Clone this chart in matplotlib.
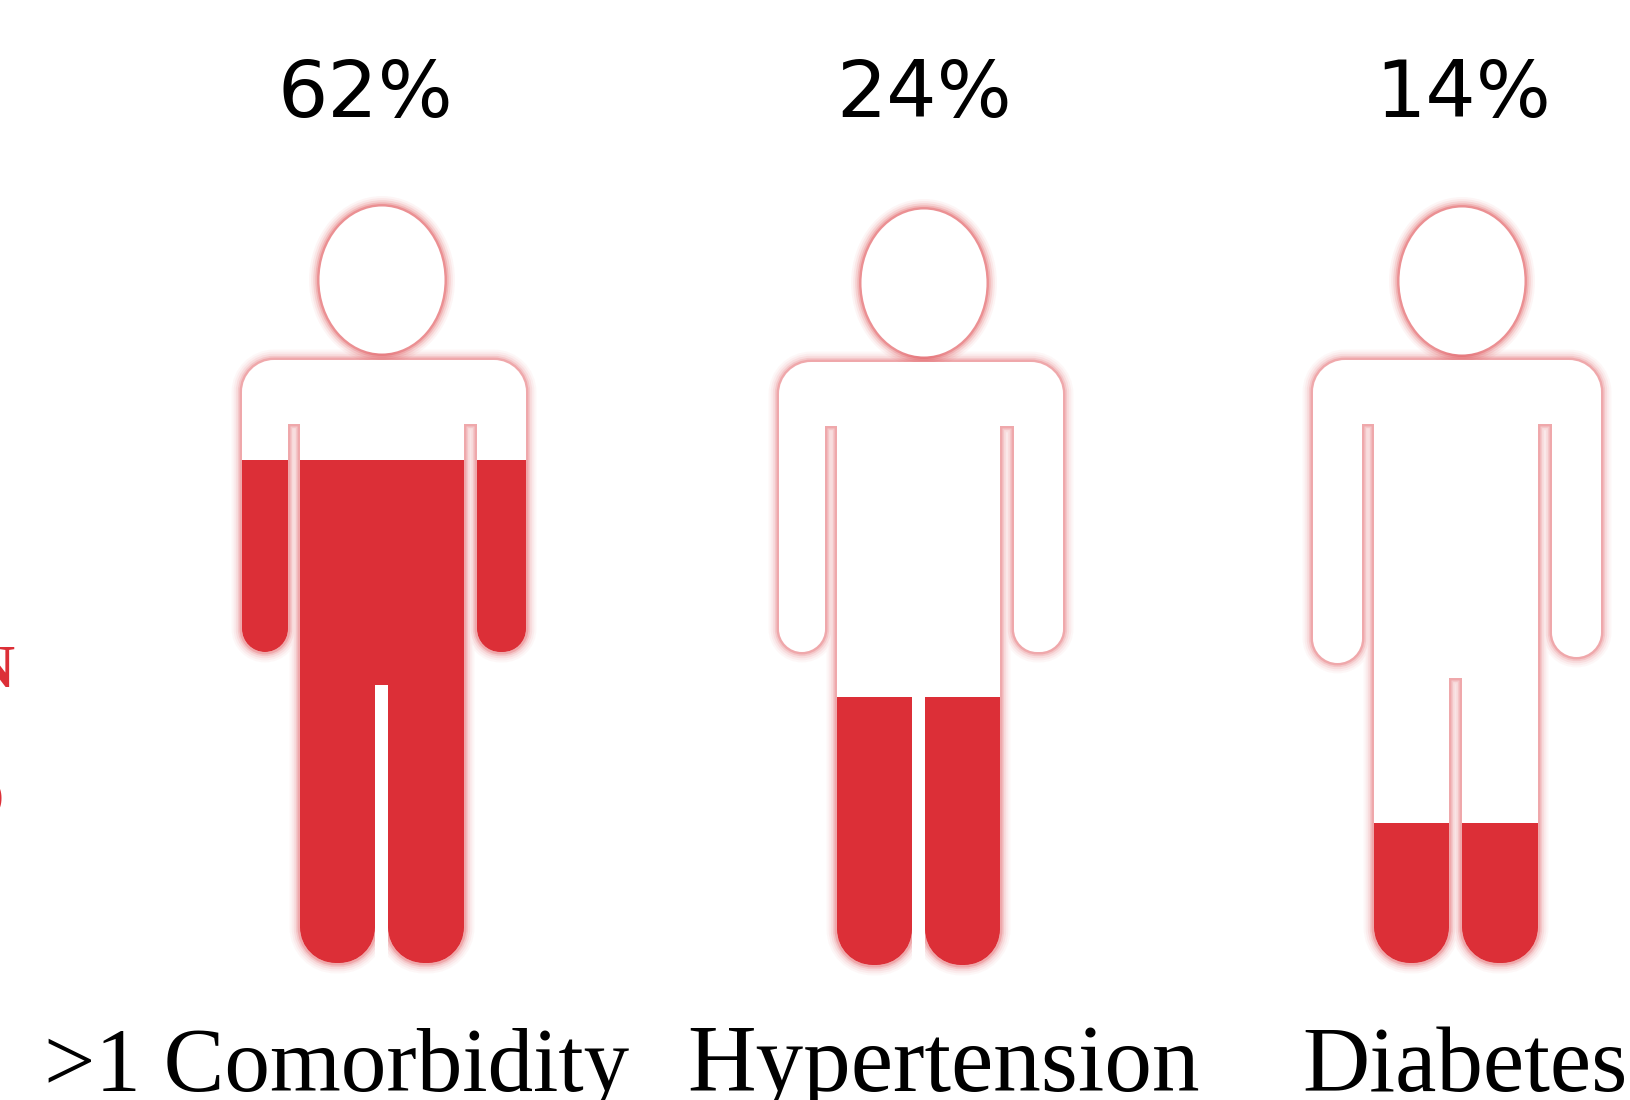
#!/usr/bin/env python3
"""Pictogram: share of patients per comorbidity, one filled figure per group."""
import matplotlib
matplotlib.use('Agg')
import matplotlib.pyplot as plt
from matplotlib.patches import Ellipse, PathPatch, Rectangle
from matplotlib.path import Path

categories = ['>1 Comorbidity', 'Hypertension', 'Diabetes']
percents = [62, 24, 14]
# how far up the figure the red goes (not the same as the %)
fill_share = [0.665, 0.354, 0.185]

RED = '#DC2F37'
GLOW = [(15, 0.035), (12, 0.05), (9, 0.08), (6, 0.12), (3.5, 0.2)]

# ── layout of each figure, in reference pixels ───────────────
LAYOUT = [
    dict(head=(382, 280), top=360, arm_l=(242, 288), arm_r=(477, 526), arm_y=(652, 652),
         pit=424, body=(300, 464), gap=(375, 388), crotch=685, foot=963, open_gap=True),
    dict(head=(924, 283), top=362, arm_l=(779, 825), arm_r=(1014, 1063), arm_y=(652, 652),
         pit=426, body=(837, 1000), gap=(912, 925), crotch=685, foot=965, open_gap=True),
    dict(head=(1462, 281), top=360, arm_l=(1313, 1362), arm_r=(1552, 1601), arm_y=(663, 657),
         pit=424, body=(1374, 1538), gap=(1449, 1462), crotch=678, foot=963, open_gap=False),
]
PCT_X = [365, 924, 1463]
LABEL_X = [337, 944, 1465]
LABEL_SIZE = [65.5, 68.5, 67]


def rounded(points):
    """Closed path through (x, y, corner radius) points."""
    verts, codes = [], []
    n = len(points)
    k = 0.55
    for i, (x, y, r) in enumerate(points):
        px, py, _ = points[i - 1]
        nx, ny, _ = points[(i + 1) % n]
        if r == 0:
            verts.append((x, y))
            codes.append(Path.LINETO)
            continue
        d1 = ((x - px) ** 2 + (y - py) ** 2) ** 0.5
        d2 = ((x - nx) ** 2 + (y - ny) ** 2) ** 0.5
        ax0, ay0 = x + (px - x) * r / d1, y + (py - y) * r / d1
        ax1, ay1 = x + (nx - x) * r / d2, y + (ny - y) * r / d2
        verts += [(ax0, ay0), (ax0 + (x - ax0) * k, ay0 + (y - ay0) * k),
                  (ax1 + (x - ax1) * k, ay1 + (y - ay1) * k), (ax1, ay1)]
        codes += [Path.LINETO, Path.CURVE4, Path.CURVE4, Path.CURVE4]
    codes[0] = Path.MOVETO
    verts.append(verts[0])
    codes.append(Path.CLOSEPOLY)
    return Path(verts, codes)


def person(g):
    a, b = g['arm_l']
    c, d = g['arm_r']
    e, f = g['body']
    k, m = g['gap']
    t, ft, cr, pit = g['top'], g['foot'], g['crotch'], g['pit']
    yl, yr = g['arm_y']
    ra, rl = (b - a) / 2, (k - e) / 2 - 2
    return rounded([
        (a, t, 32), (d, t, 32),
        (d, yr, ra), (c, yr, ra), (c, pit, 0), (f, pit, 0),
        (f, ft, rl), (m, ft, rl), (m, cr, 0), (k, cr, 0),
        (k, ft, rl), (e, ft, rl), (e, pit, 0), (b, pit, 0),
        (b, yl, ra), (a, yl, ra),
    ])


fig = plt.figure(figsize=(16.31, 11), dpi=100)
ax = fig.add_axes([0, 0, 1, 1])
ax.set_xlim(0, 1631)
ax.set_ylim(1100, 0)
ax.axis('off')

for g, share in zip(LAYOUT, fill_share):
    body = person(g)
    hx, hy = g['head']
    for lw, al in GLOW:
        ax.add_patch(PathPatch(body, fc='none', ec=RED, lw=lw, alpha=al, zorder=2))
        ax.add_patch(Ellipse((hx, hy), 125, 147, fc='none', ec=RED, lw=lw, alpha=al * 1.4, zorder=2))
    ax.add_patch(PathPatch(body, fc='white', ec='none', zorder=3))
    ax.add_patch(Ellipse((hx, hy), 125, 147, fc='white', ec='none', zorder=3))
    if g['open_gap']:
        # the gap between the legs stays clean here
        ax.add_patch(Rectangle((g['gap'][0], g['crotch']), g['gap'][1] - g['gap'][0],
                               g['foot'] - g['crotch'] + 12, fc='white', ec='none', zorder=3))

    # red part of the figure, cut off at the fill level
    height = g['foot'] - (hy - 74)
    level = g['foot'] - share * height
    red = PathPatch(body, fc=RED, ec='none', zorder=4)
    ax.add_patch(red)
    red.set_clip_path(Rectangle((0, level), 1631, 1100 - level, transform=ax.transData))

for x, p in zip(PCT_X, percents):
    ax.text(x, 117, f'{p}%', ha='center', va='baseline', fontsize=57, color='black',
            family='DejaVu Sans')
for x, label, size in zip(LABEL_X, categories, LABEL_SIZE):
    ax.text(x, 1091, label, ha='center', va='baseline', fontsize=size, color='black',
            family='Liberation Serif')

# cut-off letters at the left edge of the original slide
ax.text(15, 687, 'N', ha='right', va='baseline', fontsize=44, color=RED,
        family='Liberation Serif', weight='bold')
ax.text(5, 818, 'O', ha='right', va='baseline', fontsize=44, color=RED,
        family='Liberation Serif', weight='bold')

fig.savefig('out.png', dpi=100)
